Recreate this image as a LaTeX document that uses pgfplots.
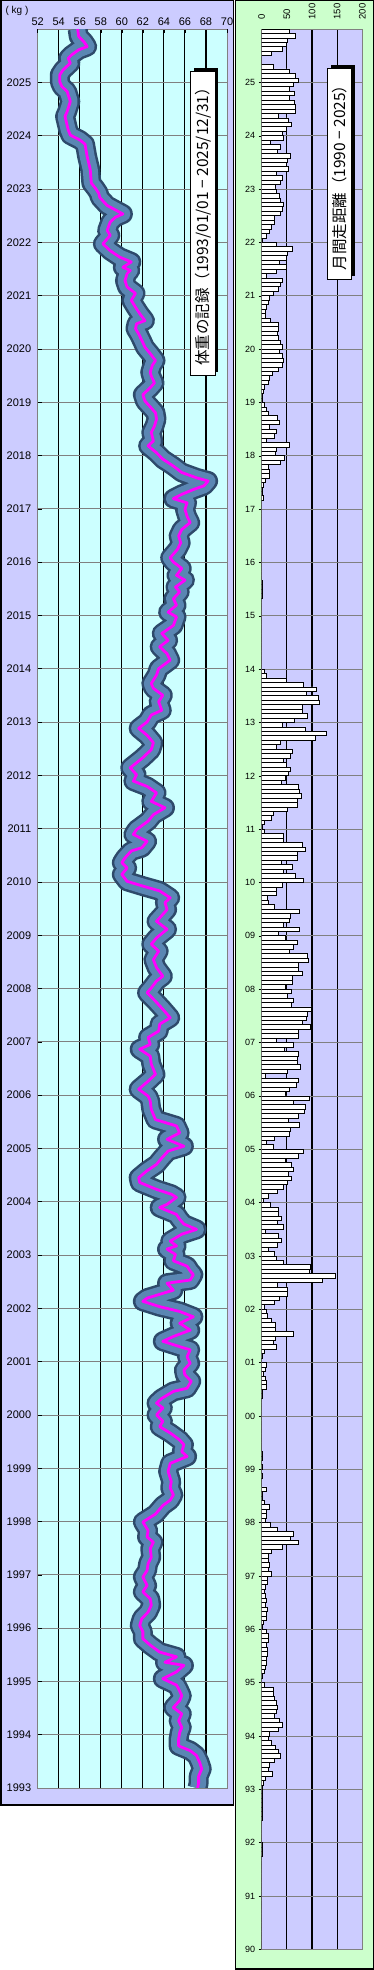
\documentclass[border=0pt]{standalone}
\usepackage{pgfplots}
\pgfplotsset{compat=1.18}
\usepackage{pgfplotstable}
\usepackage{fontspec}
\setmainfont{Liberation Sans}
\newfontfamily\jp{Noto Sans CJK JP}
\definecolor{lav}{HTML}{CCCCFF}
\definecolor{cyanbg}{HTML}{CCFFFF}
\definecolor{greenbg}{HTML}{CCFFCC}
\definecolor{bandout}{HTML}{2E4A6B}
\definecolor{bandin}{HTML}{5A86B3}
\definecolor{mag}{HTML}{FF00FF}

\pgfplotstableread{
t w
1993.00 67.2
1993.09 67.3
1993.22 67.3
1993.36 67.6
1993.48 67.4
1993.61 67.1
1993.70 66.5
1993.79 65.4
1993.92 65.4
1994.04 65.5
1994.14 65.7
1994.26 65.4
1994.39 65.7
1994.51 64.9
1994.64 65.5
1994.73 65.7
1994.86 65.4
1994.93 65.2
1995.05 63.9
1995.18 65.2
1995.30 65.9
1995.36 64.1
1995.46 65.2
1995.55 63.6
1995.68 62.7
1995.80 62.0
1995.93 62.0
1996.05 61.7
1996.18 61.9
1996.30 62.5
1996.43 62.8
1996.55 62.7
1996.68 62.0
1996.80 62.4
1996.96 62.0
1997.08 62.4
1997.21 62.5
1997.33 62.8
1997.49 62.7
1997.61 63.0
1997.71 62.4
1997.83 62.5
1997.99 62.0
1998.14 63.2
1998.30 63.9
1998.40 64.6
1998.50 64.9
1998.63 64.6
1998.75 64.7
1998.94 64.4
1999.09 64.6
1999.22 66.2
1999.31 65.7
1999.44 65.9
1999.53 65.5
1999.66 64.6
1999.78 63.6
1999.88 63.9
2000.00 63.3
2000.13 63.9
2000.22 63.3
2000.31 63.8
2000.44 64.9
2000.50 66.2
2000.63 66.6
2000.75 66.0
2000.84 65.9
2000.97 66.5
2001.09 66.2
2001.22 66.5
2001.28 65.5
2001.38 63.9
2001.47 64.9
2001.59 66.5
2001.72 65.5
2001.84 66.8
2001.94 65.5
2002.03 63.6
2002.13 62.0
2002.19 62.4
2002.34 64.9
2002.47 64.3
2002.53 66.5
2002.63 66.8
2002.70 66.5
2002.79 66.2
2002.89 64.9
2003.01 65.1
2003.11 64.3
2003.17 65.2
2003.26 64.6
2003.39 65.7
2003.48 67.1
2003.58 65.9
2003.67 65.5
2003.76 65.2
2003.89 63.6
2003.95 64.3
2004.08 65.2
2004.14 64.7
2004.23 63.3
2004.36 61.7
2004.45 61.6
2004.58 62.4
2004.70 63.3
2004.82 63.8
2004.95 64.4
2005.04 65.9
2005.17 64.3
2005.29 65.5
2005.42 65.2
2005.54 63.2
2005.73 62.8
2005.89 62.7
2005.98 62.5
2006.11 61.6
2006.26 62.5
2006.39 63.2
2006.58 62.8
2006.73 62.7
2006.86 61.7
2006.95 62.7
2007.08 62.5
2007.20 63.5
2007.33 63.6
2007.45 64.6
2007.61 63.9
2007.76 63.2
2007.92 62.4
2008.01 62.8
2008.14 63.3
2008.23 63.9
2008.39 63.3
2008.54 63.0
2008.70 63.5
2008.83 62.8
2008.95 63.3
2009.11 64.3
2009.26 63.3
2009.39 63.9
2009.48 64.3
2009.61 64.1
2009.70 64.6
2009.83 63.6
2009.92 62.0
2010.01 60.5
2010.14 60.0
2010.26 60.5
2010.36 60.0
2010.45 60.3
2010.58 60.9
2010.64 61.9
2010.76 62.4
2010.89 61.1
2010.98 61.4
2011.14 62.5
2011.26 63.0
2011.39 64.1
2011.51 62.8
2011.67 63.3
2011.79 62.4
2011.89 61.1
2012.01 61.4
2012.14 60.8
2012.33 62.0
2012.48 62.8
2012.61 63.0
2012.75 62.4
2012.88 61.6
2013.00 62.4
2013.13 62.8
2013.22 63.8
2013.38 63.5
2013.50 63.9
2013.63 63.0
2013.72 62.8
2013.88 63.3
2014.00 63.5
2014.16 64.6
2014.28 64.3
2014.41 63.6
2014.53 64.4
2014.66 63.8
2014.81 64.9
2014.97 65.2
2015.06 64.4
2015.19 65.2
2015.31 64.9
2015.44 65.5
2015.53 65.1
2015.66 66.0
2015.75 65.2
2015.88 65.7
2016.00 64.9
2016.08 64.6
2016.24 65.3
2016.36 65.6
2016.49 65.4
2016.61 65.7
2016.74 66.5
2016.86 66.2
2016.99 66.0
2017.11 66.2
2017.19 64.9
2017.27 65.7
2017.36 66.8
2017.43 67.8
2017.52 68.2
2017.58 67.1
2017.68 65.7
2017.80 64.9
2017.93 63.9
2018.05 63.3
2018.18 62.5
2018.27 63.0
2018.43 62.8
2018.55 63.1
2018.68 63.3
2018.80 63.2
2018.89 62.8
2019.02 62.2
2019.14 62.0
2019.27 62.7
2019.36 63.1
2019.49 62.8
2019.56 62.7
2019.69 62.9
2019.78 63.2
2019.91 62.7
2020.03 62.2
2020.16 61.9
2020.28 61.6
2020.38 61.3
2020.47 61.4
2020.53 62.2
2020.66 61.7
2020.78 61.3
2020.91 60.9
2021.04 61.3
2021.16 60.5
2021.28 60.3
2021.41 60.5
2021.47 60.8
2021.53 60.1
2021.63 60.9
2021.72 59.8
2021.84 58.9
2021.97 58.2
2022.13 58.9
2022.22 58.6
2022.38 58.9
2022.47 59.4
2022.53 60.1
2022.69 58.6
2022.84 57.9
2022.92 57.8
2023.01 57.5
2023.11 57.1
2023.36 57.0
2023.61 56.7
2023.84 56.5
2023.92 56.0
2024.01 55.1
2024.11 54.9
2024.36 54.6
2024.45 54.8
2024.64 55.1
2024.83 54.8
2024.92 54.3
2025.01 54.1
2025.14 54.1
2025.23 54.4
2025.36 55.1
2025.45 54.9
2025.51 55.2
2025.61 55.9
2025.67 56.7
2025.76 56.4
2025.86 55.9
2026.00 55.8
}\weight

\pgfplotstableread{
year m1 m2 m3 m4 m5 m6 m7 m8 m9 m10 m11 m12
1990 0 0 0 0 0 0 0 0 0 0 0 0
1991 0 0 0 0 0 0 0 0 0 1 1 1
1992 0 0 0 0 0 1 1 1 1 1 1 1
1993 2 3 7 22 13 15 25 37 33 27 20 13
1994 15 33 40 35 25 30 32 29 25 23 23 5
1995 0 2 5 7 9 10 11 12 10 13 13 10
1996 1 3 10 10 12 8 9 7 5 7 11 11
1997 20 13 15 13 13 20 40 72 57 62 31 18
1998 7 10 10 15 5 2 2 10 0 0 1 0
1999 1 0 1 1 0 0 0 0 0 0 0 0
2000 0 0 0 0 1 1 10 10 7 3 7 9
2001 0 1 6 29 23 28 62 28 27 19 11 10
2002 5 25 35 51 50 31 120 147 95 97 43 29
2003 25 13 31 39 33 7 43 31 39 33 33 18
2004 3 13 31 43 51 58 53 62 58 47 73 82
2005 23 9 25 55 57 75 53 73 85 87 63 95
2006 47 55 69 73 7 51 77 71 70 73 45 63
2007 29 73 72 97 80 89 91 99 58 63 51 58
2008 47 60 61 80 73 72 93 90 55 63 70 47
2009 33 75 43 55 57 75 25 13 11 30 29 40
2010 83 67 43 60 38 70 71 87 80 43 42 5
2011 2 5 19 23 51 71 71 79 75 73 39 47
2012 53 57 49 43 57 61 30 37 107 129 87 41
2013 65 91 81 81 115 112 89 108 83 48 9 5
2014 0 0 0 0 0 0 0 0 0 0 0 0
2015 0 0 0 0 2 2 2 2 0 0 0 0
2016 0 0 0 0 0 0 0 0 0 0 0 0
2017 0 0 3 1 2 3 8 15 15 13 37 45
2018 27 30 55 10 25 29 15 35 31 13 10 5
2019 1 2 3 5 13 15 22 33 40 42 40 35
2020 40 37 33 32 33 33 17 8 7 9 13 15
2021 23 33 37 40 10 29 49 35 49 51 60 30
2022 2 10 15 20 25 25 37 40 42 37 35 29
2023 27 37 40 29 53 49 51 57 31 37 17 43
2024 40 49 59 53 33 67 67 65 55 65 55 63
2025 73 66 55 23 0 0 20 40 49 51 67 55
}\runs

\begin{document}
\begin{tikzpicture}[x=1pt,y=1pt]
\useasboundingbox (0,0) rectangle (374,1970);
% panel backgrounds
\fill[lav] (0.75,165) rectangle (233.5,1969.25);
\draw[line width=1.5pt] (0.75,165) rectangle (233.5,1969.25);
\fill[greenbg] (235.5,0.75) rectangle (373.25,1969.25);
\draw[line width=1.5pt] (235.5,0.75) rectangle (373.25,1969.25);

% ---------------- weight panel ----------------
\begin{axis}[
  at={(37.7pt,182pt)}, anchor=south west, scale only axis,
  width=189.3pt, height=1759pt,
  xmin=52, xmax=70, ymin=1993, ymax=2026,
  axis background/.style={fill=cyanbg},
  axis line style={draw=gray, line width=0.8pt},
  xtick={54,56,...,68}, extra x ticks={52,70},
  extra x tick style={grid=none},
  xtick pos=right, xticklabel pos=right,
  xmajorgrids, x grid style={black, line width=1.1pt},
  ytick={1993,...,2025}, ymajorgrids, y grid style={gray, line width=0.8pt},
  minor y tick num=11, ytick pos=left,
  tick align=inside, major tick length=4pt, minor tick length=2.5pt,
  tick style={black, line width=0.6pt},
  /pgf/number format/assume math mode=true,
  ticklabel style={font=\fontsize{11}{11}\selectfont},
  yticklabel style={/pgf/number format/1000 sep={}, xshift=-3pt},
]
\addplot[bandout, line width=20pt, line join=round] table[x=w, y=t]{\weight};
\addplot[bandin, line width=15pt, line join=round] table[x=w, y=t]{\weight};
\addplot[mag, line width=2.8pt, line join=round] table[x=w, y=t]{\weight};
\end{axis}

% ---------------- running panel ----------------
\begin{axis}[
  at={(261.7pt,20.7pt)}, anchor=south west, scale only axis,
  width=100.6pt, height=1920.3pt,
  xmin=0, xmax=200, ymin=1990, ymax=2026,
  axis background/.style={fill=lav},
  axis line style={draw=gray, line width=0.8pt},
  xtick={50,100,150}, extra x ticks={0,200},
  extra x tick style={grid=none},
  xtick pos=right, xticklabel pos=right,
  xtick style={draw=none},
  xmajorgrids, x grid style={black, line width=1.1pt},
  ytick={1990,...,2025}, ymajorgrids, y grid style={gray, line width=0.8pt},
  yticklabels={90,91,92,93,94,95,96,97,98,99,00,01,02,03,04,05,06,07,08,09,10,11,12,13,14,15,16,17,18,19,20,21,22,23,24,25},
  ytick pos=left, ytick style={black, line width=0.6pt},
  tick align=outside, major tick length=3pt,
  /pgf/number format/assume math mode=true,
  xticklabel style={rotate=90, anchor=west, font=\fontsize{9.5}{9.5}\selectfont},
  xticklabel shift=3pt,
  yticklabel style={font=\fontsize{9}{9}\selectfont},
]
\pgfplotsinvokeforeach{1,...,12}{
  \addplot[xbar, bar shift=0pt, bar width=0.08333, fill=white, draw=black, line width=0.6pt]
    table[x=m#1, y expr=\thisrow{year}+(#1-0.5)/12]{\runs};
}
\end{axis}

% titles
\node[font=\fontsize{10}{10}\selectfont] at (17,1959) {( kg )};
\fill[black] (194,1598) rectangle (218.3,1902);
\draw[fill=white, line width=0.8pt] (190.7,1595) rectangle (215.3,1899);
\node[rotate=90, font=\jp\fontsize{15.5}{15.5}\selectfont] at (203,1747) {体重の記録（1993/01/01 − 2025/12/31）};
\fill[black] (330.5,1694) rectangle (355,1905);
\draw[fill=white, line width=0.8pt] (327.3,1690.7) rectangle (351.7,1901.7);
\node[rotate=90, font=\jp\fontsize{15.5}{15.5}\selectfont] at (339.5,1796) {月間走距離（1990 − 2025）};
\end{tikzpicture}
\end{document}
